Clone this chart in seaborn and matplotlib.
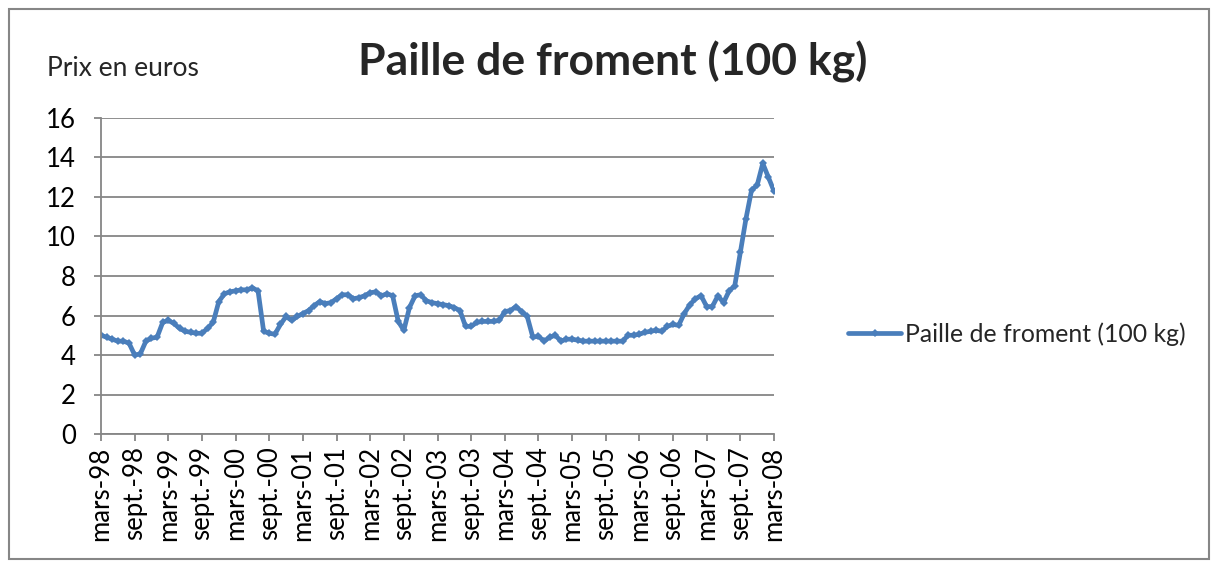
import numpy as np
import pandas as pd
import matplotlib
matplotlib.use("Agg")
import matplotlib.pyplot as plt
import seaborn as sns
from matplotlib.patches import Rectangle

# prix mensuels, mars-98 -> mars-08
prix = [5.0, 4.9, 4.8, 4.7, 4.7, 4.6, 4.0, 4.05, 4.7, 4.85, 4.9, 5.65,
        5.75, 5.6, 5.35, 5.2, 5.15, 5.1, 5.1, 5.35, 5.65, 6.7, 7.1, 7.2,
        7.25, 7.3, 7.3, 7.4, 7.25, 5.2, 5.1, 5.05, 5.55, 5.95, 5.75, 5.95,
        6.1, 6.25, 6.5, 6.7, 6.6, 6.65, 6.85, 7.05, 7.05, 6.85, 6.9, 7.0,
        7.15, 7.2, 7.0, 7.1, 7.0, 5.7, 5.25, 6.4, 7.0, 7.05, 6.75, 6.65,
        6.6, 6.55, 6.5, 6.4, 6.25, 5.45, 5.45, 5.65, 5.7, 5.7, 5.7, 5.75,
        6.2, 6.25, 6.45, 6.2, 5.95, 4.9, 4.95, 4.7, 4.9, 5.0, 4.7, 4.8,
        4.8, 4.75, 4.7, 4.7, 4.7, 4.7, 4.7, 4.7, 4.7, 4.7, 5.0, 5.0,
        5.05, 5.15, 5.2, 5.25, 5.2, 5.45, 5.55, 5.5, 6.1, 6.55, 6.85, 7.0,
        6.45, 6.45, 7.0, 6.65, 7.25, 7.5, 9.2, 10.9, 12.35, 12.6, 13.7, 13.0,
        12.3]

tick_labels = ["mars-98", "sept.-98", "mars-99", "sept.-99", "mars-00", "sept.-00",
               "mars-01", "sept.-01", "mars-02", "sept.-02", "mars-03", "sept.-03",
               "mars-04", "sept.-04", "mars-05", "sept.-05", "mars-06", "sept.-06",
               "mars-07", "sept.-07", "mars-08"]

serie = "Paille de froment (100 kg)"
df = pd.DataFrame({"mois": np.arange(len(prix)), "prix": prix})

sns.set_style("white")
plt.rcParams["font.family"] = ["Lato", "DejaVu Sans"]

gris = "#868686"
bleu = "#4A7EBB"

fig = plt.figure(figsize=(12.18, 5.68), dpi=100)
ax = fig.add_axes([101/1218, 1-434/568, (774-101)/1218, (434-118)/568])

sns.lineplot(data=df, x="mois", y="prix", ax=ax, color=bleu, linewidth=3.4,
             marker="D", markersize=4.5, markeredgewidth=0, label=serie)

ax.set_xlim(0, len(prix) - 1)
ax.set_ylim(0, 16)
ax.set_yticks(range(0, 17, 2))
ax.set_xticks(range(0, len(prix), 6))
ax.set_xticklabels(tick_labels, rotation=90)
ax.set_xlabel("")
ax.set_ylabel("")

ax.yaxis.grid(True, color=gris, linewidth=1.3)
ax.set_axisbelow(True)
for s in ["top", "right"]:
    ax.spines[s].set_visible(False)
for s in ["left", "bottom"]:
    ax.spines[s].set_color(gris)
    ax.spines[s].set_linewidth(1.3)
ax.tick_params(axis="both", direction="out", length=5, width=1.3, color=gris,
               labelsize=18.5, labelcolor="black", left=True, bottom=True)
ax.tick_params(axis="y", pad=13)
ax.tick_params(axis="x", pad=4)

ax.legend(loc="center left", bbox_to_anchor=(848/1218, 1-334/568),
          bbox_transform=fig.transFigure, frameon=False, fontsize=17.8,
          handlelength=2.15, handletextpad=0.15, borderaxespad=0, borderpad=0)

fig.text(47/1218, 1-68/568, "Prix en euros", fontsize=19, va="center", ha="left")
fig.text(613/1218, 1-62/568, "Paille de froment (100 kg)", fontsize=32,
         fontweight="bold", va="center", ha="center")

fig.patches.append(Rectangle((9/1218, 1-559/568), 1200/1218, 550/568,
                             transform=fig.transFigure, fill=False,
                             edgecolor=gris, linewidth=1.5))

fig.savefig("out.png", dpi=100)
